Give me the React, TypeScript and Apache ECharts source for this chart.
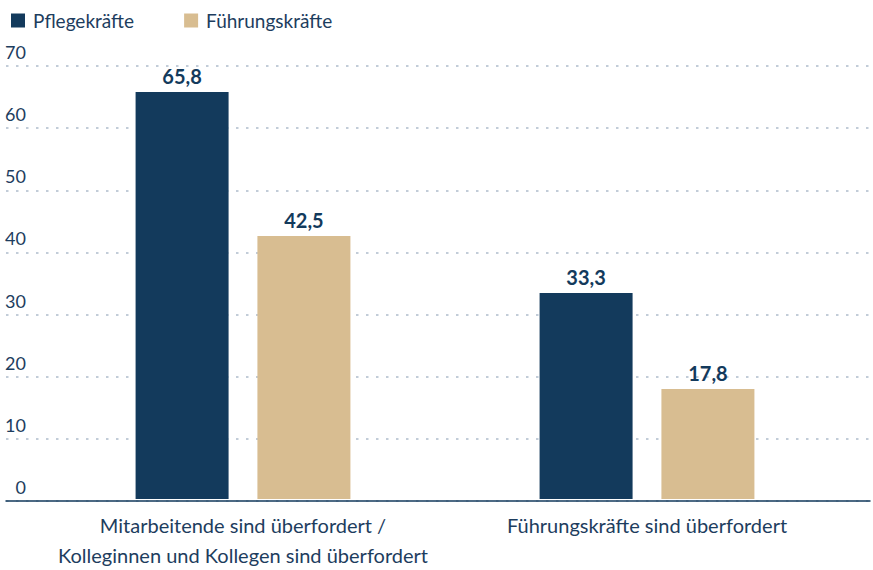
import React, { useEffect, useRef } from "react";
import * as echarts from "echarts";

const categories = [
  "Mitarbeitende sind überfordert /\nKolleginnen und Kollegen sind überfordert",
  "Führungskräfte sind überfordert",
];
const seriesNames = ["Pflegekräfte", "Führungskräfte"];
const pflegeValues = [65.8, 33.3];
const fuehrungValues = [42.5, 17.8];
const yTicks = { min: 0, max: 70, interval: 10 };

const NAVY = "#133a5c";
const TAN = "#d8bd91";
const TEXT = "#1d3d5e";
const FONT = "Lato, 'Noto Sans', sans-serif";

export default function App() {
  const ref = useRef<HTMLDivElement>(null);
  useEffect(() => {
    if (!ref.current) return;
    const chart = echarts.init(ref.current, undefined, { renderer: "svg" });
    const fmt = (p: any) => String(p.value.toFixed(1)).replace(".", ",");
    const barLabel = {
      show: true,
      position: "top",
      distance: 6,
      formatter: fmt,
      color: NAVY,
      fontSize: 20,
      fontWeight: "bold",
      fontFamily: FONT,
    };
    chart.setOption({
      animation: false,
      textStyle: { fontFamily: FONT },
      legend: {
        left: 6,
        top: 6,
        icon: "rect",
        itemWidth: 14,
        itemHeight: 14,
        itemGap: 50,
        textStyle: { fontSize: 19, color: TEXT, fontFamily: FONT, padding: [0, 0, 0, 3] },
        data: seriesNames,
      },
      grid: [
        { left: 6, right: 3, top: 66, bottom: 69 },
        { left: 41, right: 24, top: 66, bottom: 69 },
      ],
      xAxis: [
        {
          gridIndex: 0,
          type: "category",
          data: [""],
          axisLine: { show: true, lineStyle: { color: NAVY, width: 1.5 } },
          axisTick: { show: false },
          axisLabel: { show: false },
        },
        {
          gridIndex: 1,
          type: "category",
          data: categories,
          axisLine: { show: false },
          axisTick: { show: false },
          axisLabel: {
            interval: 0,
            color: TEXT,
            fontSize: 20,
            lineHeight: 30,
            margin: 11,
            fontFamily: FONT,
          },
        },
      ],
      yAxis: [
        {
          gridIndex: 0,
          type: "value",
          min: yTicks.min,
          max: yTicks.max,
          interval: yTicks.interval,
          axisLine: { show: false },
          axisTick: { show: false },
          axisLabel: {
            color: TEXT,
            fontSize: 18,
            align: "right",
            verticalAlign: "bottom",
            margin: -20,
            padding: [0, 0, 5, 0],
            fontFamily: FONT,
          },
          splitLine: {
            show: true,
            lineStyle: { color: "#aebccb", type: [2.5, 7.5], width: 1.5 },
          },
        },
        {
          gridIndex: 1,
          type: "value",
          min: yTicks.min,
          max: yTicks.max,
          interval: yTicks.interval,
          show: false,
          splitLine: { show: false },
        },
      ],
      series: [
        {
          name: seriesNames[0],
          type: "bar",
          xAxisIndex: 1,
          yAxisIndex: 1,
          data: pflegeValues,
          barWidth: 93,
          barGap: "31%",
          itemStyle: { color: NAVY },
          label: barLabel,
        },
        {
          name: seriesNames[1],
          type: "bar",
          xAxisIndex: 1,
          yAxisIndex: 1,
          data: fuehrungValues,
          barWidth: 93,
          barGap: "31%",
          itemStyle: { color: TAN },
          label: barLabel,
        },
      ],
    });
    return () => chart.dispose();
  }, []);
  return (
    <div
      ref={ref}
      style={{ position: "fixed", left: 0, top: 0, width: 873, height: 570, background: "#fff" }}
    />
  );
}
